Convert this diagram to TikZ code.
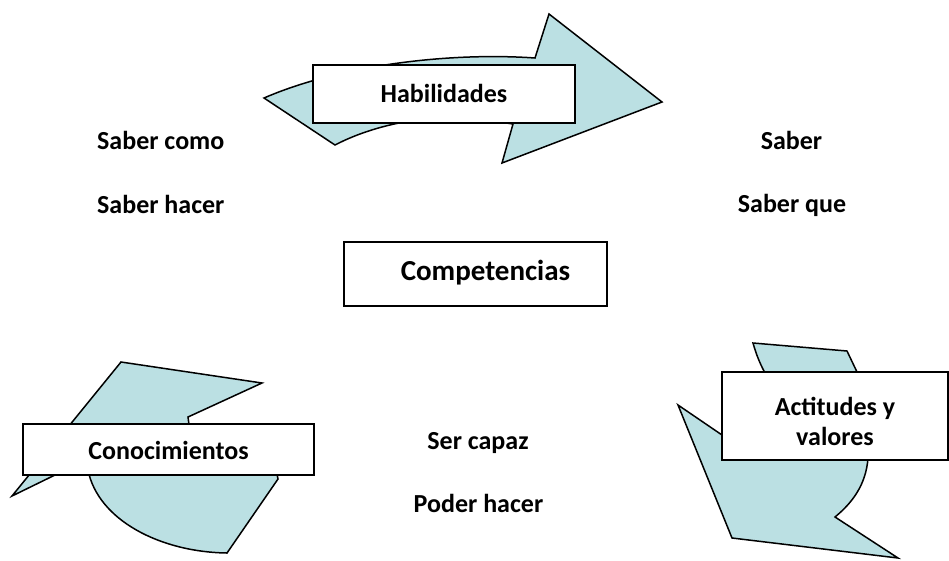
\documentclass[tikz,border=0pt]{standalone}
\usepackage{fontspec}
\setmainfont{Carlito}
\definecolor{arrowfill}{RGB}{187,224,227}
\begin{document}
\begin{tikzpicture}[x=1pt,y=-1pt,
  shapeline/.style={draw=black, line width=1.5pt, fill=arrowfill, line join=miter},
  box/.style={draw=black, line width=1.3pt, fill=white, inner sep=0pt,
    font=\fontsize{26}{30}\selectfont\bfseries, text height=19pt, text depth=3pt},
  lbl/.style={inner sep=0pt, font=\fontsize{26}{30}\selectfont\bfseries}]
\useasboundingbox (0,0) rectangle (949,560);

% curved arrow behind "Habilidades"
\draw[shapeline] (264,98) .. controls (340,65) and (450,52) .. (535,58)
  -- (549,14) -- (662,102) -- (502,163) -- (513,124) -- (460,116)
  .. controls (400,118) and (360,132) .. (335,145) -- cycle;

% curved arrow behind "Conocimientos"
\draw[shapeline] (121,362) -- (262,383) -- (188,417) -- (190,432) -- (277,474)
  -- (278,479) -- (227,553) .. controls (160,552) and (98,520) .. (88,470)
  -- (60,468) -- (55,475) -- (12,496) -- cycle;

% curved arrow behind "Actitudes y valores"
\draw[shapeline] (753,343) -- (847,351) -- (857,372) -- (866,420) -- (868,458)
  .. controls (866,485) and (852,503) .. (835,517) -- (898,558) -- (732,538)
  -- (678,405) -- (722,435) -- (765,400) -- (765,373)
  .. controls (758,360) and (755,350) .. (753,343) -- cycle;

% boxes
\node[box, minimum width=262pt, minimum height=58pt] (hab) at (444,94) {Habilidades};
\node[box, minimum width=263pt, minimum height=64pt,
  font=\fontsize{29}{34}\selectfont\bfseries, text height=20pt, text depth=7pt] (comp) at (475.5,274) {\hspace*{20pt}Competencias};
\node[box, minimum width=291pt, minimum height=51pt,
  text height=23pt, text depth=3pt] (con) at (168.5,449.5) {Conocimientos};
\node[box, minimum width=226pt, minimum height=88pt, align=center,
  text height=58pt, text depth=0pt] (act) at (835,416) {Actitudes y\\valores};

% free labels
\node[lbl, anchor=base west] (sabercomo) at (97,149) {Saber como};
\node[lbl, anchor=base west] (saberhacer) at (97,213) {Saber hacer};
\node[lbl, anchor=base] (saber) at (791.5,149) {Saber};
\node[lbl, anchor=base] (saberque) at (792,212) {Saber que};
\node[lbl, anchor=base] (sercapaz) at (478,449) {Ser capaz};
\node[lbl, anchor=base] (poderhacer) at (478.5,512) {Poder hacer};
\end{tikzpicture}
\end{document}
